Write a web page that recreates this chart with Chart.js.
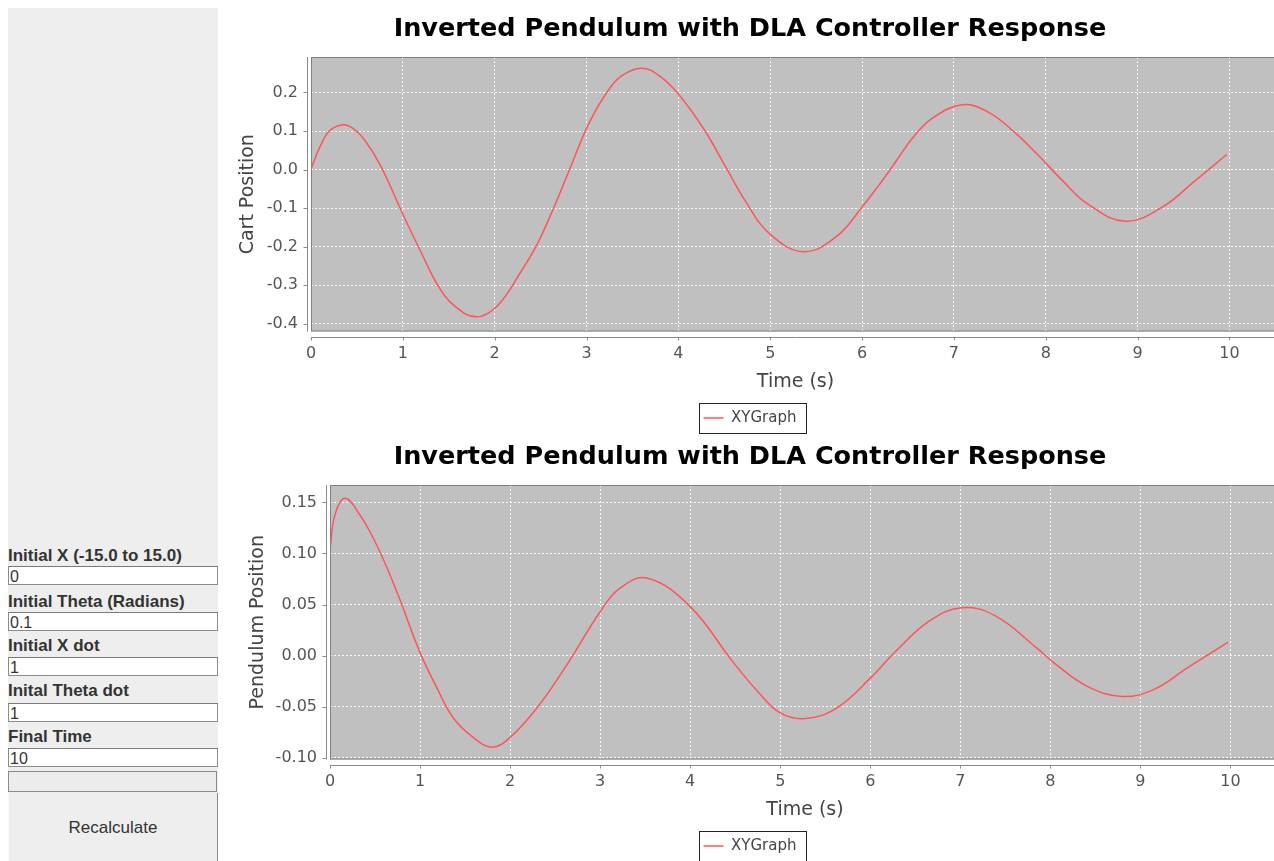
<!DOCTYPE html>
<html>
<head>
<meta charset="utf-8">
<script src="https://cdn.jsdelivr.net/npm/chart.js@4.4.1/dist/chart.umd.min.js"></script>
<style>
  body { margin: 0; background: #fff; overflow: hidden; width: 1274px; height: 861px; position: relative; }
  .panel { position: absolute; left: 8px; top: 8px; width: 210px; height: 860px; background: #eeeeee; }
  .lbl { position: absolute; left: 8px; font: bold 17px "Liberation Sans", Arial, sans-serif; color: #333; white-space: nowrap; }
  .field { position: absolute; left: 8px; width: 207px; height: 17px; background: #fff; border: 1px solid #8c8c8c; border-top-color: #7a7a7a;
           font: 16px "Liberation Sans", Arial, sans-serif; color: #333; line-height: 19px; padding-left: 1px; box-sizing: content-box; }
  .bar { position: absolute; left: 8px; top: 771px; width: 207px; height: 19px; border: 1px solid #8a8a8a; background: #ececec; }
  .btn { position: absolute; left: 8px; top: 793px; width: 208px; height: 80px; background: #eeeeee; border-right: 1px solid #888;
         border-left: 1px solid #fafafa; font: 17px "Liberation Sans", Arial, sans-serif; color: #333; text-align: center; line-height: 70px; }
  canvas { position: absolute; left: 220px; }
</style>
</head>
<body>
<div class="panel"></div>
<div class="lbl" style="top:546px">Initial X (-15.0 to 15.0)</div>
<div class="field" style="top:566px">0</div>
<div class="lbl" style="top:592px">Initial Theta (Radians)</div>
<div class="field" style="top:612px">0.1</div>
<div class="lbl" style="top:636px">Initial X dot</div>
<div class="field" style="top:657px">1</div>
<div class="lbl" style="top:681px">Inital Theta dot</div>
<div class="field" style="top:703px">1</div>
<div class="lbl" style="top:727px">Final Time</div>
<div class="field" style="top:748px">10</div>
<div class="bar"></div>
<div class="btn">Recalculate</div>

<canvas id="cartChart" width="1070" height="440" style="top:0px"></canvas>
<canvas id="pendChart" width="1070" height="440" style="top:428px"></canvas>

<script>
const chartTitle = 'Inverted Pendulum with DLA Controller Response';
const seriesName = 'XYGraph';
const xTicks = [0, 1, 2, 3, 4, 5, 6, 7, 8, 9, 10];

// cart position
const cartTime = [0, 0.03, 0.1, 0.2, 0.345, 0.45, 0.58, 0.76, 1.01, 1.2, 1.38, 1.56, 1.8, 2.03, 2.28, 2.47, 2.65, 2.83, 3.01, 3.19, 3.37, 3.6, 3.8, 4.0, 4.28, 4.51, 4.73, 5.0, 5.37, 5.73, 6.0, 6.28, 6.55, 6.77, 7.09, 7.36, 7.64, 7.91, 8.18, 8.45, 8.86, 9.27, 9.63, 9.97];
const cartPos = [0.0, 0.02, 0.06, 0.10, 0.116, 0.108, 0.078, 0.009, -0.121, -0.215, -0.30, -0.353, -0.382, -0.353, -0.267, -0.19, -0.095, 0.009, 0.112, 0.189, 0.241, 0.263, 0.242, 0.196, 0.104, 0.009, -0.082, -0.168, -0.213, -0.172, -0.097, -0.009, 0.082, 0.134, 0.168, 0.151, 0.101, 0.039, -0.028, -0.088, -0.134, -0.097, -0.028, 0.039];

// pendulum angle
const pendTime = [0, 0.056, 0.167, 0.33, 0.52, 0.74, 1.0, 1.19, 1.37, 1.59, 1.8, 2.0, 2.3, 2.63, 3.0, 3.22, 3.52, 4.0, 4.47, 4.75, 5.0, 5.28, 5.63, 6.0, 6.28, 6.65, 7.01, 7.39, 7.85, 8.04, 8.41, 8.8, 9.15, 9.52, 9.97];
const pendPos = [0.104, 0.138, 0.154, 0.138, 0.108, 0.063, 0.003, -0.032, -0.061, -0.080, -0.0895, -0.080, -0.051, -0.009, 0.043, 0.066, 0.076, 0.048, -0.0056, -0.035, -0.056, -0.0616, -0.051, -0.022, 0.004, 0.0335, 0.047, 0.039, 0.0074, -0.007, -0.030, -0.040, -0.033, -0.012, 0.013];

const lineColor = '#ff5555';
const tickFont = { family: 'DejaVu Sans', size: 16 };
const axisFont = { family: 'DejaVu Sans', size: 19 };

// grey plot background, JFreeChart-ish offset axes and a boxed legend
const plotFrame = {
  id: 'plotFrame',
  beforeDraw(chart) {
    const a = chart.chartArea, ctx = chart.ctx;
    ctx.save();
    ctx.fillStyle = '#c0c0c0';
    ctx.fillRect(a.left, a.top, a.right - a.left, a.bottom - a.top);
    ctx.restore();
  },
  afterDraw(chart) {
    const a = chart.chartArea, ctx = chart.ctx;
    const xs = chart.scales.x, ys = chart.scales.y;
    ctx.save();
    ctx.strokeStyle = '#808080';
    ctx.lineWidth = 1;
    ctx.strokeRect(a.left + 0.5, a.top + 0.5, a.right - a.left - 1, a.bottom - a.top - 1);

    ctx.strokeStyle = '#8a8a8a';
    ctx.beginPath();
    const axX = Math.round(a.left - 4) + 0.5;
    ctx.moveTo(axX, a.top);
    ctx.lineTo(axX, a.bottom);
    ys.ticks.forEach(function(t) {
      const py = Math.round(ys.getPixelForValue(t.value)) + 0.5;
      ctx.moveTo(axX - 4, py);
      ctx.lineTo(axX, py);
    });
    const axY = Math.round(a.bottom + 5) + 0.5;
    ctx.moveTo(a.left, axY);
    ctx.lineTo(a.right, axY);
    xs.ticks.forEach(function(t) {
      const px = Math.round(xs.getPixelForValue(t.value)) + 0.5;
      ctx.moveTo(px, axY);
      ctx.lineTo(px, axY + 3);
    });
    ctx.stroke();

    const hb = chart.legend.legendHitBoxes[0];
    if (hb) {
      ctx.strokeStyle = '#222';
      ctx.strokeRect(Math.round(hb.left - 5) + 0.5, Math.round(hb.top - 8) + 0.5, Math.round(hb.width + 14), 30);
    }
    ctx.restore();
  }
};

function generateChart(canvasId, times, values, yLabel, yMin, yMax, yStep, digits, axisWidth, titlePad) {
  const ctx = document.getElementById(canvasId);
  const data = {
    datasets: [{
      label: seriesName,
      data: times.map(function(t, i) { return { x: t, y: values[i] }; }),
      borderColor: lineColor,
      backgroundColor: lineColor,
      borderWidth: 1.5,
      pointRadius: 0,
      tension: 0.4,
      fill: false
    }]
  };
  return new Chart(ctx, {
    type: 'line',
    data: data,
    plugins: [plotFrame],
    options: {
      responsive: false,
      animation: false,
      devicePixelRatio: 1,
      layout: { padding: { right: 10, bottom: 4.5 } },
      plugins: {
        title: {
          display: true,
          text: chartTitle,
          color: '#000',
          font: { family: 'DejaVu Sans', size: 25.5, weight: 'bold' },
          padding: { top: 14, bottom: 12.4 }
        },
        legend: {
          display: true,
          position: 'bottom',
          labels: {
            usePointStyle: true,
            pointStyle: 'line',
            pointStyleWidth: 20,
            color: '#444',
            font: { family: 'DejaVu Sans', size: 15 }
          }
        },
        tooltip: { enabled: false }
      },
      scales: {
        x: {
          type: 'linear',
          min: 0,
          max: 10.55,
          afterBuildTicks: function(scale) {
            scale.ticks = xTicks.map(function(v) { return { value: v }; });
          },
          ticks: { font: tickFont, color: '#555', padding: 5, maxRotation: 0, autoSkip: false },
          grid: { color: 'rgba(255,255,255,0.9)', tickColor: 'rgba(0,0,0,0)', tickLength: 8 },
          border: { display: false, dash: [2, 2] },
          title: { display: true, text: 'Time (s)', color: '#444', font: axisFont, padding: { top: 2, bottom: 7 } }
        },
        y: {
          min: yMin,
          max: yMax,
          afterFit: function(scale) { scale.width = axisWidth; },
          ticks: {
            stepSize: yStep,
            includeBounds: false,
            font: tickFont,
            color: '#555',
            padding: 5,
            callback: function(v) { return (Math.abs(v) < 1e-9 ? 0 : v).toFixed(digits); }
          },
          grid: { color: 'rgba(255,255,255,0.9)', tickColor: 'rgba(0,0,0,0)', tickLength: 8 },
          border: { display: false, dash: [2, 2] },
          title: { display: true, text: yLabel, color: '#444', font: axisFont, padding: { top: titlePad, bottom: 0 } }
        }
      }
    }
  });
}

generateChart('cartChart', cartTime, cartPos, 'Cart Position', -0.42, 0.292, 0.1, 1, 91, 16.6);
generateChart('pendChart', pendTime, pendPos, 'Pendulum Position', -0.1016, 0.167, 0.05, 2, 110, 26.6);
</script>
</body>
</html>
